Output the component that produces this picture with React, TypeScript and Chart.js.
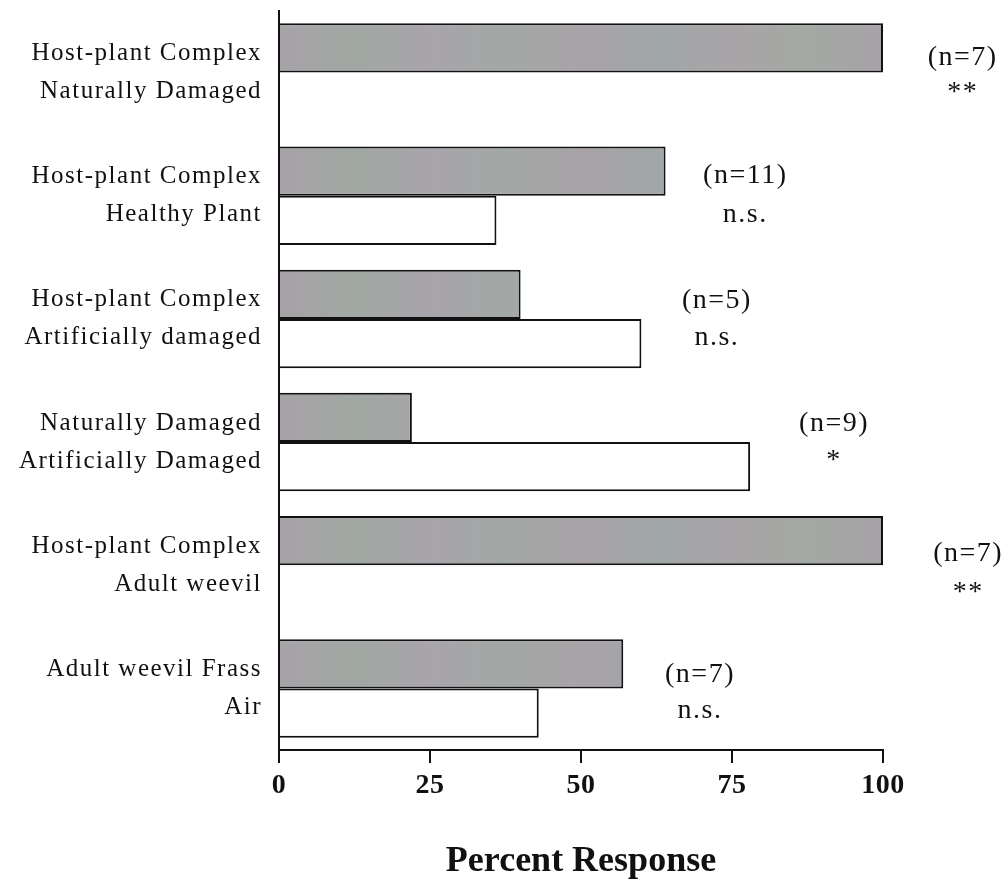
import React, { useEffect, useRef } from "react";
import { Chart, registerables } from "chart.js";

Chart.register(...registerables);

// ---- data ----
const labelTop = [
  "Host-plant Complex",
  "Host-plant Complex",
  "Host-plant Complex",
  "Naturally Damaged",
  "Host-plant Complex",
  "Adult weevil Frass",
];
const labelBottom = [
  "Naturally Damaged",
  "Healthy Plant",
  "Artificially damaged",
  "Artificially Damaged",
  "Adult weevil",
  "Air",
];
const firstChoice = [100, 64, 40, 22, 100, 57];
const secondChoice: (number | null)[] = [null, 36, 60, 78, null, 43];
const sampleSize = ["(n=7)", "(n=11)", "(n=5)", "(n=9)", "(n=7)", "(n=7)"];
const significance = ["**", "n.s.", "n.s.", "*", "**", "n.s."];
const xTicks = [0, 25, 50, 75, 100];
const axisTitle = "Percent Response";

// ---- annotation placement (x in axis units, y offsets in px from category centre) ----
const annX = [113.2, 77.2, 72.5, 91.9, 114.1, 69.7];
const annDy1 = [-15, -20, -18, -18, -12, -14];
const annDy2 = [20, 19, 19, 19, 27, 22];

const SERIF = "'Liberation Serif', 'Times New Roman', serif";

const annotationPlugin = {
  id: "annotations",
  beforeDraw(chart: any) {
    const patch = (scale: any, spacing: string) => {
      if (!scale || scale._lsPatched) return;
      const orig = scale.drawLabels.bind(scale);
      scale.drawLabels = (area: any) => {
        const ctx = chart.ctx;
        ctx.save();
        ctx.letterSpacing = spacing;
        orig(area);
        ctx.restore();
      };
      scale._lsPatched = true;
    };
    patch(chart.scales.y, "1.5px");
    patch(chart.scales.x, "0.5px");
  },
  afterDraw(chart: any) {
    const ctx = chart.ctx;
    const xs = chart.scales.x;
    const ys = chart.scales.y;
    ctx.save();
    ctx.letterSpacing = "1.5px";
    ctx.fillStyle = "#111";
    ctx.textAlign = "center";
    ctx.textBaseline = "middle";
    ctx.font = `28px ${SERIF}`;
    for (let i = 0; i < sampleSize.length; i++) {
      const x = xs.getPixelForValue(annX[i]);
      const yc = ys.getPixelForValue(i);
      ctx.fillText(sampleSize[i], x, yc + annDy1[i]);
      ctx.fillText(significance[i], x, yc + annDy2[i]);
    }
    ctx.restore();
  },
};

let grayGradient: CanvasGradient | null = null;
function grayFill(c: any) {
  const chart = c.chart;
  const area = chart.chartArea;
  if (!area) return "#a6a4a6";
  if (!grayGradient) {
    const g = chart.ctx.createLinearGradient(area.left, 0, area.right, 0);
    const stops = [
      "#a7a2a8", "#a1a8a3", "#a8a4ab", "#a2a8a5", "#a9a3a8",
      "#a1a7a8", "#a9a4a7", "#a3a9a3", "#a7a2a9",
    ];
    stops.forEach((s, k) => g.addColorStop(k / (stops.length - 1), s));
    grayGradient = g;
  }
  return grayGradient;
}

export default function App() {
  const ref = useRef<HTMLCanvasElement>(null);

  useEffect(() => {
    if (!ref.current) return;
    grayGradient = null;
    const labels = labelTop.map((t, i) => [t, labelBottom[i]]);
    const chart = new Chart(ref.current, {
      type: "bar",
      data: {
        labels,
        datasets: [
          {
            label: "first",
            data: firstChoice,
            backgroundColor: grayFill as any,
            borderColor: "#111",
            borderWidth: 2,
            categoryPercentage: 0.8,
            barPercentage: 1.0,
          },
          {
            label: "second",
            data: secondChoice,
            backgroundColor: "#ffffff",
            borderColor: "#111",
            borderWidth: 2,
            categoryPercentage: 0.8,
            barPercentage: 1.0,
          },
        ],
      },
      options: {
        indexAxis: "y",
        responsive: false,
        animation: false,
        layout: { padding: { top: 11, right: 122, bottom: 0, left: 0 } },
        plugins: {
          legend: { display: false },
          tooltip: { enabled: false },
        },
        scales: {
          x: {
            type: "linear",
            min: 0,
            max: 100,
            afterBuildTicks: (scale: any) => {
              scale.ticks = xTicks.map((v) => ({ value: v }));
            },
            afterFit: (scale: any) => {
              scale.height = 132;
              scale.paddingLeft = 0;
              scale.paddingRight = 0;
            },
            grid: {
              display: true,
              drawOnChartArea: false,
              drawTicks: true,
              tickLength: 13,
              color: "#111",
              lineWidth: 2,
            },
            border: { display: true, color: "#111", width: 2 },
            ticks: {
              padding: 6,
              color: "#111",
              font: { family: SERIF, size: 28, weight: "bold", lineHeight: 1.2 },
            },
            title: {
              display: true,
              text: axisTitle,
              color: "#111",
              font: { family: SERIF, size: 36, weight: "bold", lineHeight: 1.1 },
              padding: { top: 0, bottom: 0 },
            },
          },
          y: {
            type: "category",
            afterFit: (scale: any) => {
              scale.width = 279;
              scale.paddingTop = 0;
              scale.paddingBottom = 0;
            },
            grid: { display: false, drawTicks: false, tickLength: 0 },
            border: { display: true, color: "#111", width: 2 },
            ticks: {
              padding: 17,
              color: "#111",
              font: { family: SERIF, size: 25, lineHeight: 38 / 25 },
            },
          },
        },
      },
      plugins: [annotationPlugin],
    } as any);
    return () => chart.destroy();
  }, []);

  return (
    <div style={{ position: "absolute", left: 0, top: 0, width: 1005, height: 882, background: "#fff" }}>
      <canvas ref={ref} width={1005} height={882} style={{ display: "block" }} />
    </div>
  );
}
